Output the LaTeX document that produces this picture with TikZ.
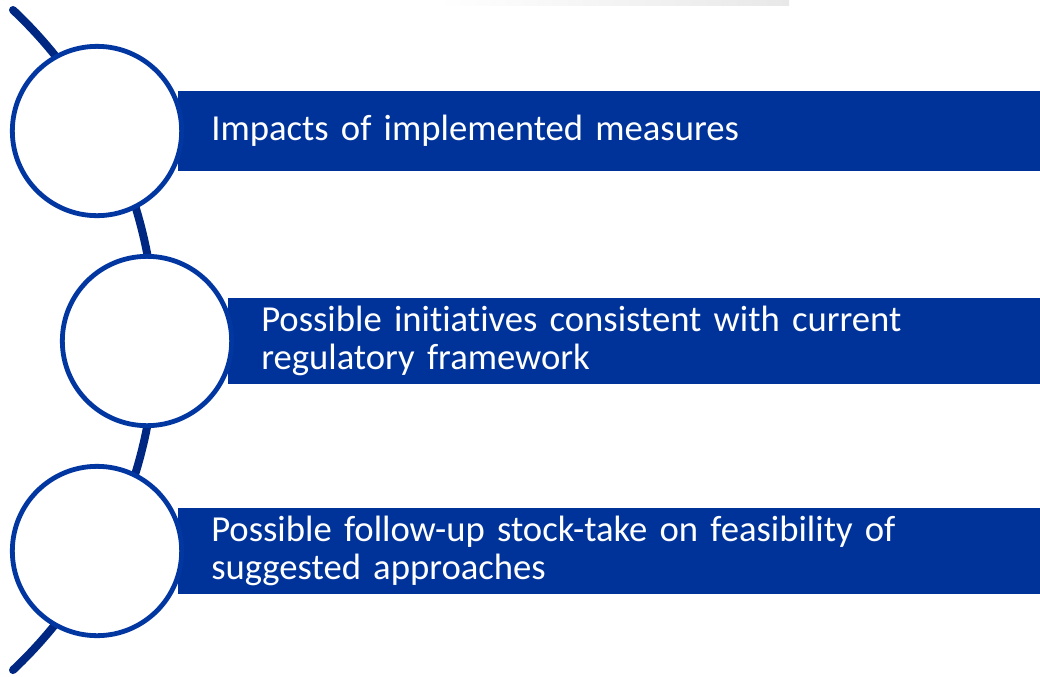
\documentclass[tikz,border=0pt]{standalone}
\usepackage{fontspec}
\setmainfont{Carlito}[Ligatures={NoCommon}]
\definecolor{barblue}{RGB}{0,51,153}
\definecolor{ringblue}{RGB}{2,54,160}
\definecolor{spineblue}{RGB}{0,40,130}
\begin{document}
\begin{tikzpicture}[
  x=0.75pt, y=0.75pt,
  every node/.style={font=\fontsize{27.5}{29}\selectfont},
  ring/.style={circle, draw=ringblue, fill=white, line width=3.6pt, minimum size=127pt, inner sep=0pt},
  bar/.style={fill=barblue, text=white, anchor=west, align=left, inner xsep=24.75pt, inner ysep=0pt},
  spine/.style={draw=spineblue, line width=6pt, line cap=round}
]
\useasboundingbox (0,0) rectangle (1040,-676);

% faint strip along the top edge
\shade[left color=white, right color=black!9] (437,0) rectangle (789,-5);

% curved spine behind the rings
\coordinate (spine top) at (13,-10);
\draw[spine] (spine top) arc[start angle=46.7, end angle=-46.7, radius=453.5];

% text bars
\node[bar, minimum width=646.5pt, minimum height=60pt, text width=597pt] (bar1) at (178,-131)
  {Impacts of implemented measures};
\node[bar, minimum width=609pt, minimum height=64.5pt, text width=559.5pt] (bar2) at (228,-341)
  {Possible initiatives consistent with current\\regulatory framework};
\node[bar, minimum width=646.5pt, minimum height=64.5pt, text width=597pt] (bar3) at (178,-551)
  {Possible follow-up stock-take on feasibility of\\suggested approaches};

% rings on top of spine and bars
\node[ring] (c1) at (97,-131) {};
\node[ring] (c2) at (147,-341) {};
\node[ring] (c3) at (97,-551) {};

\end{tikzpicture}
\end{document}
